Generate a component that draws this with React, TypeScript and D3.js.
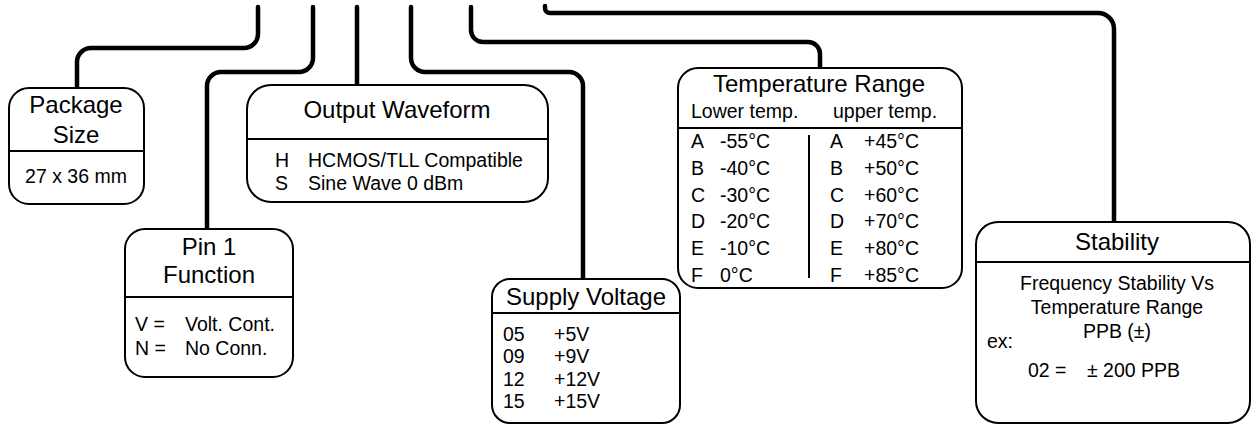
import * as d3 from "d3";

/* ------------------------------------------------------------------ */
/*  Data                                                               */
/* ------------------------------------------------------------------ */

const PACKAGE_TITLE = ["Package", "Size"];
const PACKAGE_SIZES = ["27 x 36 mm"];

const PIN1_TITLE = ["Pin 1", "Function"];
const PIN1_CODES = ["V =", "N ="];
const PIN1_LABELS = ["Volt. Cont.", "No Conn."];

const OUTPUT_TITLE = "Output Waveform";
const OUTPUT_CODES = ["H", "S"];
const OUTPUT_LABELS = ["HCMOS/TLL Compatible", "Sine Wave 0 dBm"];

const SUPPLY_TITLE = "Supply Voltage";
const SUPPLY_CODES = ["05", "09", "12", "15"];
const SUPPLY_VALUES = ["+5V", "+9V", "+12V", "+15V"];

const TEMP_TITLE = "Temperature Range";
const TEMP_HEADERS = ["Lower temp.", "upper temp."];
const TEMP_CODES = ["A", "B", "C", "D", "E", "F"];
const LOWER_TEMPS = ["-55°C", "-40°C", "-30°C", "-20°C", "-10°C", "0°C"];
const UPPER_TEMPS = ["+45°C", "+50°C", "+60°C", "+70°C", "+80°C", "+85°C"];

const STABILITY_TITLE = "Stability";
const STABILITY_LINES = ["Frequency Stability Vs", "Temperature Range", "PPB (±)"];
const STABILITY_EX = "ex:";
const STABILITY_EX_CODE = "02 =";
const STABILITY_EX_VALUE = "± 200 PPB";

/* ------------------------------------------------------------------ */
/*  Theme                                                              */
/* ------------------------------------------------------------------ */

const W = 1256;
const H = 429;
const INK = "#000";
const FONT = "'Liberation Sans', Arial, Helvetica, sans-serif";
const TITLE_SIZE = 24;
const BODY_SIZE = 19.5;
const WIRE_W = 4.5;
const BOX_W = 2;

type Pt = [number, number, number?];

/* rounded polyline: third entry of a middle point = corner radius */
function wirePath(pts: Pt[]) {
  const p = d3.path();
  p.moveTo(pts[0][0], pts[0][1]);
  for (let i = 1; i < pts.length - 1; i++) {
    const [x, y, r] = pts[i];
    p.arcTo(x, y, pts[i + 1][0], pts[i + 1][1], r ?? 14);
  }
  const last = pts[pts.length - 1];
  p.lineTo(last[0], last[1]);
  return p.toString();
}

function Box({
  x,
  y,
  w,
  h,
  div,
  r = 20,
}: {
  x: number;
  y: number;
  w: number;
  h: number;
  div: number;
  r?: number;
}) {
  return (
    <g>
      <rect x={x} y={y} width={w} height={h} rx={r} ry={r} fill="#fff" stroke={INK} strokeWidth={BOX_W} />
      <line x1={x} x2={x + w} y1={div} y2={div} stroke={INK} strokeWidth={BOX_W} />
    </g>
  );
}

const T = (props: any) => <text fill={INK} fontFamily={FONT} fontSize={BODY_SIZE} {...props} />;

export default function App() {
  /* row scales */
  const pinY = d3.scaleLinear().domain([0, 1]).range([331, 355]);
  const outY = d3.scaleLinear().domain([0, 1]).range([167, 190]);
  const supY = d3.scaleLinear().domain([0, 3]).range([340.5, 408]);
  const tempY = d3.scaleLinear().domain([0, 5]).range([148, 282]);
  const stabY = d3.scaleLinear().domain([0, 2]).range([290, 338]);
  const pkgTitleY = d3.scaleLinear().domain([0, 1]).range([113, 143]);
  const pinTitleY = d3.scaleLinear().domain([0, 1]).range([255, 283]);

  const wires: Pt[][] = [
    [[258, 7], [258, 48, 14], [77, 48, 14], [77, 88]],
    [[313, 7], [313, 72, 14], [207, 72, 14], [207, 229]],
    [[357, 7], [357, 85]],
    [[411, 7], [411, 72, 14], [583, 72, 14], [583, 279]],
    [[471, 7], [471, 42, 12], [820, 42, 12], [820, 68]],
    [[545, 6], [545, 13, 5], [1114, 13, 16], [1114, 222]],
  ];

  return (
    <svg
      width={W}
      height={H}
      viewBox={`0 0 ${W} ${H}`}
      style={{ position: "absolute", left: 0, top: 0, background: "#fff" }}
    >
      <rect width={W} height={H} fill="#fff" />

      {/* Wires */}
      {wires.map((pts, i) => (
        <path
          key={i}
          d={wirePath(pts)}
          fill="none"
          stroke={INK}
          strokeWidth={WIRE_W}
          strokeLinecap="round"
          strokeLinejoin="round"
        />
      ))}

      {/* Package size */}
      <Box x={9} y={88} w={135} h={116} div={151} />
      {PACKAGE_TITLE.map((t, i) => (
        <T key={t} x={76} y={pkgTitleY(i)} textAnchor="middle" fontSize={TITLE_SIZE}>
          {t}
        </T>
      ))}
      {PACKAGE_SIZES.map((t) => (
        <T key={t} x={76} y={183} textAnchor="middle">
          {t}
        </T>
      ))}

      {/* Pin 1 function */}
      <Box x={125} y={229} w={168} h={148} div={297} />
      {PIN1_TITLE.map((t, i) => (
        <T key={t} x={209} y={pinTitleY(i)} textAnchor="middle" fontSize={TITLE_SIZE}>
          {t}
        </T>
      ))}
      {PIN1_CODES.map((c, i) => (
        <g key={c}>
          <T x={135} y={pinY(i)}>{c}</T>
          <T x={185} y={pinY(i)}>{PIN1_LABELS[i]}</T>
        </g>
      ))}

      {/* Output waveform */}
      <Box x={247} y={85} w={301} h={117} div={139} r={24} />
      <T x={397} y={118} textAnchor="middle" fontSize={TITLE_SIZE}>
        {OUTPUT_TITLE}
      </T>
      {OUTPUT_CODES.map((c, i) => (
        <g key={c}>
          <T x={275} y={outY(i)}>{c}</T>
          <T x={308} y={outY(i)}>{OUTPUT_LABELS[i]}</T>
        </g>
      ))}

      {/* Supply voltage */}
      <Box x={492} y={279} w={188} h={144} div={313} r={18} />
      <T x={586} y={305} textAnchor="middle" fontSize={TITLE_SIZE}>
        {SUPPLY_TITLE}
      </T>
      {SUPPLY_CODES.map((c, i) => (
        <g key={c}>
          <T x={503} y={supY(i)}>{c}</T>
          <T x={554} y={supY(i)}>{SUPPLY_VALUES[i]}</T>
        </g>
      ))}

      {/* Temperature range */}
      <Box x={678} y={68} w={284} h={220} div={128} />
      <T x={819} y={92} textAnchor="middle" fontSize={TITLE_SIZE}>
        {TEMP_TITLE}
      </T>
      <T x={691} y={118}>{TEMP_HEADERS[0]}</T>
      <T x={833} y={118}>{TEMP_HEADERS[1]}</T>
      <line x1={809} x2={809} y1={135} y2={278} stroke={INK} strokeWidth={BOX_W} />
      {TEMP_CODES.map((c, i) => (
        <g key={c}>
          <T x={691} y={tempY(i)}>{c}</T>
          <T x={720} y={tempY(i)}>{LOWER_TEMPS[i]}</T>
          <T x={830} y={tempY(i)}>{c}</T>
          <T x={864} y={tempY(i)}>{UPPER_TEMPS[i]}</T>
        </g>
      ))}

      {/* Stability */}
      <Box x={976} y={222} w={274} h={201} div={262} r={22} />
      <T x={1117} y={250} textAnchor="middle" fontSize={TITLE_SIZE}>
        {STABILITY_TITLE}
      </T>
      {STABILITY_LINES.map((t, i) => (
        <T key={t} x={1117} y={stabY(i)} textAnchor="middle">
          {t}
        </T>
      ))}
      <T x={987} y={348}>{STABILITY_EX}</T>
      <T x={1028} y={377}>{STABILITY_EX_CODE}</T>
      <T x={1087} y={377}>{STABILITY_EX_VALUE}</T>
    </svg>
  );
}
